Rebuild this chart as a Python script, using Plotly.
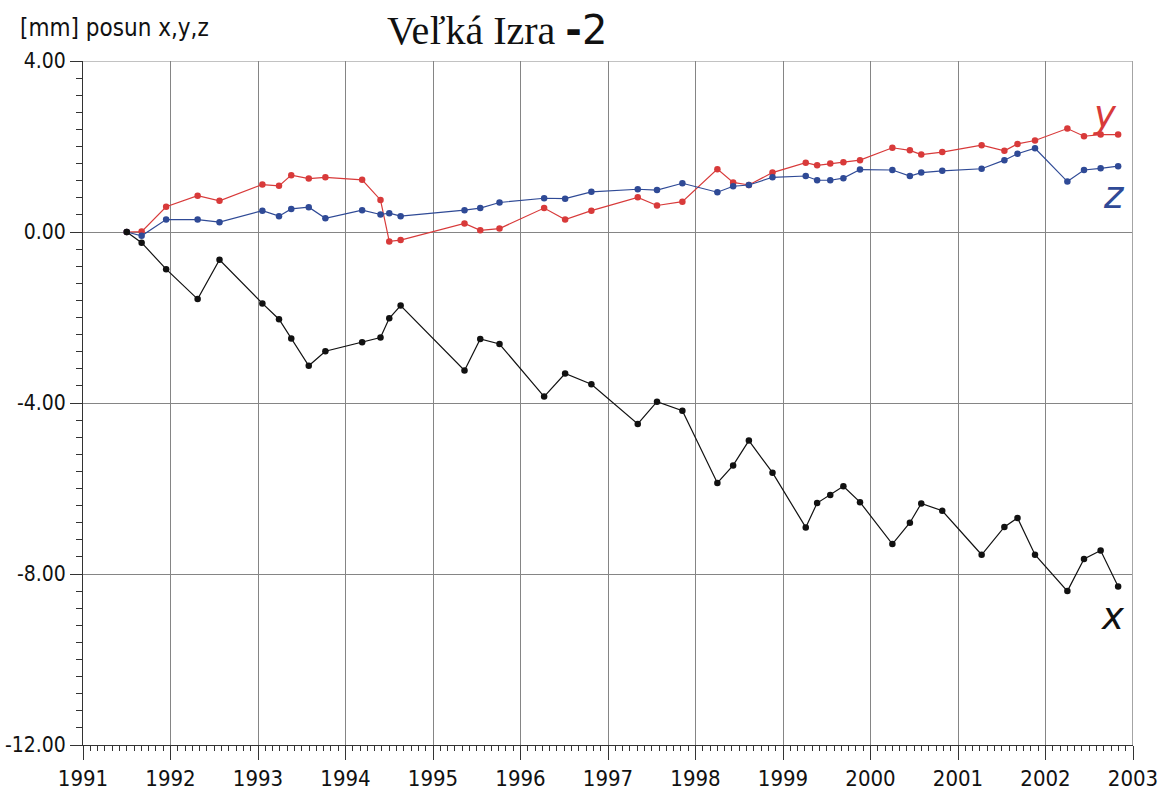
import plotly.graph_objects as go

# Observation epochs (decimal years) and displacements in mm
dates = [1991.50, 1991.67, 1991.95, 1992.31, 1992.56, 1993.05, 1993.24, 1993.38, 1993.58, 1993.77,
         1994.19, 1994.40, 1994.50, 1994.63,
         1995.36, 1995.54, 1995.76, 1996.27, 1996.51, 1996.81, 1997.34, 1997.56, 1997.85, 1998.25,
         1998.43, 1998.61, 1998.88,
         1999.26, 1999.39, 1999.54, 1999.69, 1999.88, 2000.25, 2000.45, 2000.58, 2000.82, 2001.27,
         2001.53, 2001.68, 2001.88, 2002.25, 2002.44, 2002.63, 2002.83]

pos_x = [0.00, -0.25, -0.87, -1.57, -0.65, -1.67, -2.04, -2.49, -3.13, -2.79,
         -2.58, -2.47, -2.02, -1.72,
         -3.24, -2.50, -2.62, -3.85, -3.31, -3.56, -4.49, -3.97, -4.18, -5.87,
         -5.46, -4.88, -5.63,
         -6.91, -6.34, -6.15, -5.95, -6.32, -7.30, -6.80, -6.35, -6.52, -7.55,
         -6.90, -6.69, -7.55, -8.40, -7.65, -7.45, -8.29]

pos_y = [0.00, 0.01, 0.59, 0.85, 0.73, 1.11, 1.08, 1.33, 1.25, 1.28,
         1.22, 0.75, -0.22, -0.19,
         0.20, 0.04, 0.08, 0.56, 0.29, 0.50, 0.81, 0.62, 0.71, 1.47,
         1.16, 1.10, 1.39,
         1.62, 1.56, 1.60, 1.63, 1.68, 1.97, 1.91, 1.81, 1.87, 2.03,
         1.90, 2.06, 2.14, 2.42, 2.24, 2.28, 2.28]

pos_z = [0.00, -0.09, 0.29, 0.29, 0.23, 0.50, 0.37, 0.54, 0.58, 0.32,
         0.51, 0.41, 0.44, 0.37,
         0.51, 0.56, 0.69, 0.79, 0.78, 0.94, 1.00, 0.98, 1.14, 0.93,
         1.07, 1.10, 1.28,
         1.31, 1.21, 1.21, 1.26, 1.46, 1.45, 1.31, 1.39, 1.43, 1.48,
         1.68, 1.83, 1.96, 1.18, 1.45, 1.49, 1.54]

year_ticks = list(range(1991, 2004))
year_labels = [str(y) for y in year_ticks]
mm_ticks = [4, 0, -4, -8, -12]
mm_labels = ["4.00", "0.00", "-4.00", "-8.00", "-12.00"]

RED = "#d83a3a"
BLUE = "#2f4a96"
BLACK = "#111111"
GRID = "#858585"
SANS = "DejaVu Sans Condensed, DejaVu Sans, sans-serif"

fig = go.Figure()
for vals, col in [(pos_y, RED), (pos_z, BLUE), (pos_x, BLACK)]:
    fig.add_trace(go.Scatter(
        x=dates, y=vals, mode="lines+markers",
        line=dict(color=col, width=1.2),
        marker=dict(color=col, size=6.5),
        showlegend=False, hoverinfo="x+y",
    ))

fig.update_layout(
    width=1167, height=795,
    margin=dict(l=83, r=34, t=61, b=50),
    paper_bgcolor="white", plot_bgcolor="white",
    title=dict(
        text='Veľká Izra <span style="font-family:DejaVu Sans, sans-serif"><b>-</b>2</span>',
        font=dict(family="Liberation Serif, Times New Roman, serif", size=40, color="#111"),
        x=0.426, xref="container", xanchor="center",
        y=0.962, yref="container", yanchor="middle",
    ),
    xaxis=dict(
        range=[1991, 2003], tickvals=year_ticks, ticktext=year_labels,
        showgrid=True, gridcolor=GRID, gridwidth=1,
        showline=True, linecolor="#333", linewidth=1,
        ticks="outside", ticklen=14, tickcolor="#333",
        minor=dict(dtick=1 / 12, tick0=1991, ticks="outside", ticklen=5, tickcolor="#333", showgrid=False),
        tickfont=dict(family=SANS, size=22, color="#111"), zeroline=False, automargin=False,
    ),
    yaxis=dict(
        range=[-12, 4], tickvals=mm_ticks, ticktext=mm_labels,
        showgrid=True, gridcolor=GRID, gridwidth=1,
        showline=True, linecolor="#333", linewidth=1,
        ticks="outside", ticklen=12, tickcolor="#333",
        minor=dict(dtick=0.4, tick0=0, ticks="outside", ticklen=6, tickcolor="#333", showgrid=False),
        tickfont=dict(family=SANS, size=21, color="#111"), zeroline=False, automargin=False,
    ),
)

# Frame lines along the top and right edges
fig.add_shape(type="line", xref="x", yref="y", x0=1991, x1=2003, y0=4, y1=4,
              line=dict(color=GRID, width=1))
fig.add_shape(type="line", xref="x", yref="y", x0=2003, x1=2003, y0=-12, y1=4,
              line=dict(color="#a4a4a4", width=2))

# Axis caption and series labels
fig.add_annotation(text="[mm] posun x,y,z", xref="paper", yref="paper", x=-0.062, y=1.048,
                   xanchor="left", yanchor="middle", showarrow=False,
                   font=dict(family=SANS, size=24, color="#111"))
label_font = "DejaVu Sans, sans-serif"
for txt, col, xx, yy in [("<i>y</i>", RED, 2002.68, 2.75), ("<i>z</i>", BLUE, 2002.78, 0.85),
                         ("<i>x</i>", BLACK, 2002.77, -9.0)]:
    fig.add_annotation(text=txt, x=xx, y=yy, xref="x", yref="y", showarrow=False,
                       font=dict(family=label_font, size=37, color=col))

fig.write_html("out.html")
